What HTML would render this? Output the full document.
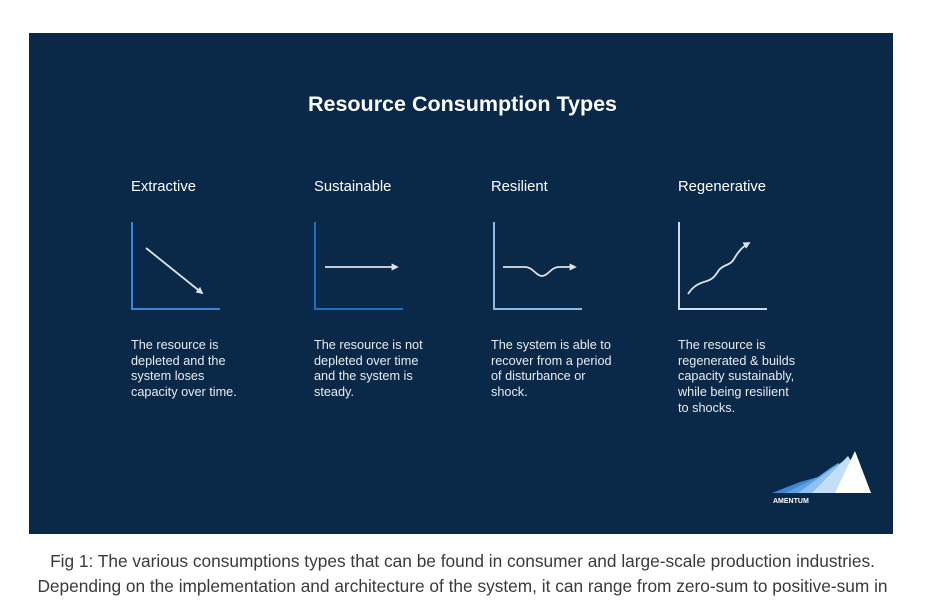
<!DOCTYPE html>
<html><head><style>
body{margin:0;width:925px;height:609px;background:#fff;position:relative;overflow:hidden;font-family:"Liberation Sans",sans-serif}
.panel{position:absolute;left:29px;top:33px;width:864px;height:501px;background:#0a2847}
.t{position:absolute;color:#fff;font-size:14.8px}
.d{position:absolute;color:#e8ecf2;font-size:12.7px;line-height:15.7px}
.cap{position:absolute;left:0;width:925px;text-align:center;color:#3a3a3a;font-size:17.3px}
</style></head><body>
<div class="panel"></div>
<div class="t" style="left:0;width:925px;text-align:center;top:92px;font-size:21.5px;font-weight:bold">Resource Consumption Types</div>
<div class="t" style="left:131px;top:179px">Extractive</div>
<div class="t" style="left:314px;top:179px">Sustainable</div>
<div class="t" style="left:491px;top:179px">Resilient</div>
<div class="t" style="left:678px;top:179px">Regenerative</div>
<svg width="925" height="609" style="position:absolute;left:0;top:0">
<defs><marker id="a" markerWidth="4" markerHeight="4" refX="3" refY="2" orient="auto"><path d="M0,0L4,2L0,4z" fill="#dde3ea"/></marker></defs>
<g fill="none" stroke-width="2">
<path d="M132,222V309H220" stroke="#3c82d8"/>
<path d="M315,222V309H403" stroke="#1f6fc2"/>
<path d="M494,222V309H582" stroke="#8cbaea"/>
<path d="M679,222V309H767" stroke="#c9dcf0"/>
</g>
<g fill="none" stroke="#dde3ea" stroke-width="1.8">
<path d="M146,248L202,293" marker-end="url(#a)"/>
<path d="M325,267H397" marker-end="url(#a)"/>
<path d="M503,267H525C533,267 536,276 542,276C548,276 551,267 559,267H575" marker-end="url(#a)"/>
<path d="M688,294C694,285 700,283 707,281C713,279 715,276 719,270C724,264 730,266 734,259C738,252 742,247 749,243" marker-end="url(#a)"/>
</g>
<polygon points="772,493 800,482 818,477 833,466 871,493" fill="#3f86d4"/>
<polygon points="785,493 818,477 838,463 871,493" fill="#5ea2e4"/>
<polygon points="798,493 830,470 845,460 871,493" fill="#8ec0f0"/>
<polygon points="812,493 848,456 871,493" fill="#c4def6"/>
<polygon points="835,493 855,451 871,493" fill="#fff"/>
<text x="773" y="503" fill="#fff" font-size="7" font-weight="bold" font-family="Liberation Sans">AMENTUM</text>
</svg>
<div class="d" style="left:131px;top:338px">The resource is<br>depleted and the<br>system loses<br>capacity over time.</div>
<div class="d" style="left:314px;top:338px">The resource is not<br>depleted over time<br>and the system is<br>steady.</div>
<div class="d" style="left:491px;top:338px">The system is able to<br>recover from a period<br>of disturbance or<br>shock.</div>
<div class="d" style="left:678px;top:338px">The resource is<br>regenerated &amp; builds<br>capacity sustainably,<br>while being resilient<br>to shocks.</div>
<div class="cap" style="top:551px">Fig 1: The various consumptions types that can be found in consumer and large-scale production industries.</div>
<div class="cap" style="top:576px">Depending on the implementation and architecture of the system, it can range from zero-sum to positive-sum in</div>
</body></html>
